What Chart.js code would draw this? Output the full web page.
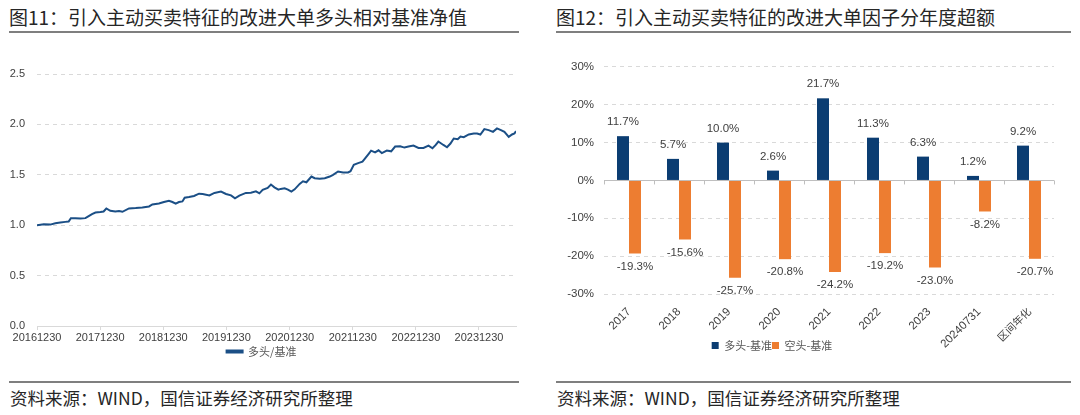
<!DOCTYPE html>
<html><head><meta charset="utf-8">
<script src="https://cdn.jsdelivr.net/npm/chart.js@4.4.1/dist/chart.umd.min.js"></script>
<style>
html,body{margin:0;padding:0;background:#fff;width:1080px;height:415px;overflow:hidden;position:relative;font-family:"Noto Sans CJK SC",sans-serif;}
.title{position:absolute;top:4px;font-size:19px;color:#262626;white-space:nowrap;line-height:26px;}
.rule{position:absolute;height:2px;background:#7f7f7f;}
.src{position:absolute;top:388px;font-size:17.5px;color:#262626;white-space:nowrap;line-height:20px;}
canvas{position:absolute;}
</style></head><body>
<div class="title" style="left:9px">图11：引入主动买卖特征的改进大单多头相对基准净值</div>
<div class="rule" style="left:9px;width:510px;top:31px"></div>
<div class="title" style="left:556px">图12：引入主动买卖特征的改进大单因子分年度超额</div>
<div class="rule" style="left:556px;width:515px;top:31px"></div>
<canvas id="c1" width="540" height="312" style="left:0;top:55px"></canvas>
<canvas id="c2" width="600" height="311" style="left:480px;top:50px"></canvas>
<div class="rule" style="left:9px;width:510px;top:381px"></div>
<div class="rule" style="left:556px;width:515px;top:381px"></div>
<div class="src" style="left:10px">资料来源：WIND，国信证券经济研究所整理</div>
<div class="src" style="left:557px">资料来源：WIND，国信证券经济研究所整理</div>
<script>
// ---- Left chart data ----
const navSeriesName = '多头/基准';
const navDates = ['20161230','20170207','20170317','20170415','20170514','20170612','20170701','20170714','20170809','20170907','20171006','20171025','20171113','20171203','20180101','20180119','20180204','20180227','20180328','20180418','20180508','20180615','20180724','20180831','20181009','20181028','20181205','20190103','20190201','20190221','20190312','20190331','20190420','20190503','20190528','20190626','20190725','20190815','20190923','20191022','20191129','20191228','20200126','20200218','20200314','20200421','20200520','20200618','20200708','20200727','20200825','20200913','20201003','20201026','20201108','20201201','20201220','20210109','20210128','20210226','20210317','20210406','20210505','20210524','20210622','20210721','20210819','20210907','20211006','20211104','20211203','20211217','20220105','20220130','20220224','20220308','20220331','20220415','20220508','20220528','20220616','20220715','20220809','20220901','20220930','20221025','20221117','20221216','20230114','20230212','20230313','20230405','20230424','20230509','20230607','20230628','20230718','20230806','20230829','20230914','20231003','20231101','20231130','20231219','20240107','20240130','20240224','20240320','20240412','20240505','20240525','20240619','20240708','20240722','20240731'];
const navValues = [1.000,1.010,1.006,1.020,1.026,1.033,1.036,1.070,1.070,1.066,1.070,1.090,1.110,1.126,1.130,1.136,1.166,1.143,1.136,1.140,1.133,1.166,1.170,1.176,1.186,1.206,1.216,1.230,1.243,1.230,1.213,1.230,1.236,1.273,1.280,1.290,1.313,1.310,1.296,1.320,1.333,1.310,1.296,1.266,1.293,1.320,1.323,1.336,1.316,1.350,1.370,1.403,1.376,1.353,1.360,1.366,1.353,1.333,1.356,1.410,1.436,1.426,1.483,1.466,1.460,1.466,1.483,1.500,1.533,1.523,1.523,1.536,1.600,1.616,1.630,1.656,1.706,1.740,1.723,1.743,1.716,1.740,1.733,1.780,1.783,1.770,1.780,1.790,1.766,1.766,1.790,1.763,1.796,1.830,1.796,1.773,1.810,1.860,1.853,1.880,1.873,1.900,1.910,1.910,1.900,1.953,1.943,1.926,1.960,1.943,1.926,1.876,1.900,1.910,1.933];
const navTickLabels = ['20161230','20171230','20181230','20191230','20201230','20211230','20221230','20231230'];
const navYTicks = [0,0.5,1.0,1.5,2.0,2.5];

// ---- Right chart data ----
const barCategories = ['2017','2018','2019','2020','2021','2022','2023','20240731','区间年化'];
const longName = '多头-基准';
const shortName = '空头-基准';
const longExcess = [11.7,5.7,10.0,2.6,21.7,11.3,6.3,1.2,9.2];
const shortExcess = [-19.3,-15.6,-25.7,-20.8,-24.2,-19.2,-23.0,-8.2,-20.7];
const barYTicks = [-30,-20,-10,0,10,20,30];

const BLUE_LINE = '#1b4f86';
const BLUE_BAR = '#0b3d72';
const ORANGE = '#ed7d31';
const LATIN = '"Liberation Sans", Arial, sans-serif';
const CJK = '"Noto Sans CJK SC", sans-serif';

const base = Date.UTC(+navDates[0].slice(0,4), +navDates[0].slice(4,6)-1, +navDates[0].slice(6,8));
function dayOffset(s){
  return Math.round((Date.UTC(+s.slice(0,4), +s.slice(4,6)-1, +s.slice(6,8)) - base)/86400000);
}
const labelMap = {};
navTickLabels.forEach(l => { labelMap[dayOffset(l)] = l; });

new Chart(document.getElementById('c1'), {
  type: 'line',
  data: { datasets: [{
    label: navSeriesName,
    data: navDates.map((d,i) => ({x: dayOffset(d), y: navValues[i]})),
    borderColor: BLUE_LINE, backgroundColor: BLUE_LINE,
    borderWidth: 2, pointRadius: 0, tension: 0
  }]},
  options: {
    responsive: false, animation: false,
    layout: { padding: { left: 7, right: 24, top: 19, bottom: 0 } },
    scales: {
      x: {
        type: 'linear', min: 0, max: dayOffset(navDates[navDates.length-1]),
        afterBuildTicks: ax => { ax.ticks = navTickLabels.map(l => ({value: dayOffset(l)})); },
        afterFit: s => { s.height = 18; s._computeLabelArea = () => undefined; },
        ticks: { autoSkip: false, maxRotation: 0, minRotation: 0, padding: 1, color: '#404040',
          font: { family: LATIN, size: 11 }, callback: v => labelMap[v] },
        grid: { drawOnChartArea: false, drawTicks: true, tickLength: 4, color: '#d9d9d9' },
        border: { display: true, color: '#d9d9d9' }
      },
      y: {
        min: 0, max: 2.5,
        afterBuildTicks: ax => { ax.ticks = navYTicks.map(v => ({value: v})); },
        afterFit: s => { s.width = 30; },
        ticks: { padding: 12, color: '#404040', font: { family: LATIN, size: 11 }, callback: v => Number(v).toFixed(1) },
        grid: { drawTicks: false, color: c => (c.tick && c.tick.value === 0) ? 'rgba(0,0,0,0)' : '#d9d9d9' },
        border: { display: false, dash: [4,4] }
      }
    },
    plugins: {
      legend: { position: 'bottom', labels: { boxWidth: 16, boxHeight: 2, padding: 2, color: '#595959', font: { family: CJK, size: 11 } } },
      tooltip: { enabled: false }
    }
  }
});

const barLabelPlugin = {
  id: 'barLabels',
  afterDatasetsDraw(chart) {
    const ctx = chart.ctx;
    ctx.save();
    ctx.font = '11.5px ' + LATIN;
    ctx.fillStyle = '#404040';
    ctx.textAlign = 'center';
    ctx.textBaseline = 'middle';
    chart.data.datasets.forEach((ds, di) => {
      chart.getDatasetMeta(di).data.forEach((el, i) => {
        const v = ds.data[i];
        const y = v >= 0 ? el.y - 14 : el.y + 13;
        ctx.fillText(v.toFixed(1) + '%', el.x, y);
      });
    });
    ctx.restore();
  }
};
const zeroTickPlugin = {
  id: 'zeroTicks',
  beforeDatasetsDraw(chart) {
    const xs = chart.scales.x, ys = chart.scales.y, ctx = chart.ctx;
    const y0 = ys.getPixelForValue(0);
    ctx.save();
    ctx.strokeStyle = '#bfbfbf'; ctx.lineWidth = 1;
    for (let i = 0; i <= chart.data.labels.length; i++) {
      const x = Math.round(xs.getPixelForValue(i - 0.5)) + 0.5;
      ctx.beginPath(); ctx.moveTo(x, y0); ctx.lineTo(x, y0 + 4); ctx.stroke();
    }
    ctx.restore();
  }
};

new Chart(document.getElementById('c2'), {
  type: 'bar',
  data: {
    labels: barCategories,
    datasets: [
      { label: longName, data: longExcess, backgroundColor: BLUE_BAR, categoryPercentage: 0.48, barPercentage: 1.0 },
      { label: shortName, data: shortExcess, backgroundColor: ORANGE, categoryPercentage: 0.48, barPercentage: 1.0 }
    ]
  },
  plugins: [barLabelPlugin, zeroTickPlugin],
  options: {
    responsive: false, animation: false,
    layout: { padding: { left: 10, right: 26, top: 15, bottom: 0 } },
    scales: {
      x: {
        afterFit: s => { s.height = 46; s._computeLabelArea = () => undefined; },
        ticks: { autoSkip: false, minRotation: 45, maxRotation: 45, padding: 3, color: '#404040',
          font: c => ({ family: c.index === 8 ? CJK : LATIN, size: c.index === 8 ? 10.5 : 11.5 }) },
        grid: { display: false },
        border: { display: false }
      },
      y: {
        min: -30, max: 30,
        afterBuildTicks: ax => { ax.ticks = barYTicks.map(v => ({value: v})); },
        afterFit: s => { s.width = 114; },
        ticks: { padding: 10, color: '#404040', font: { family: LATIN, size: 11.5 }, callback: v => v + '%' },
        grid: { drawTicks: false, color: c => (c.tick && c.tick.value === 0) ? '#bfbfbf' : '#d9d9d9' },
        border: { display: false, dash: c => (c.tick && c.tick.value === 0) ? [] : [4,4] }
      }
    },
    plugins: {
      legend: { position: 'bottom', labels: { boxWidth: 7, boxHeight: 7, padding: 0, color: '#595959', font: { family: CJK, size: 11 } } },
      tooltip: { enabled: false }
    }
  }
});
</script>
</body></html>
